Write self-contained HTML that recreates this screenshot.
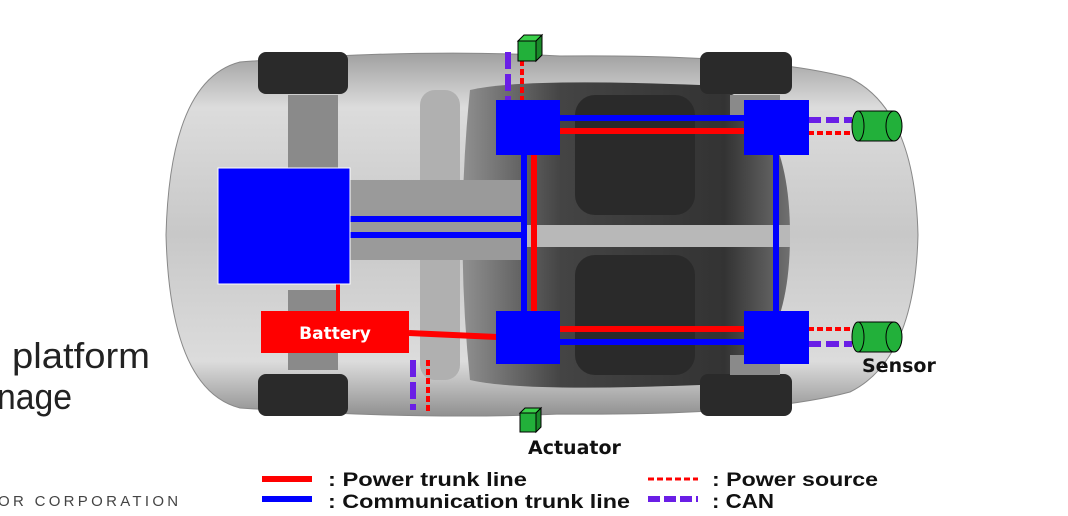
<!DOCTYPE html>
<html><head><style>
html,body{margin:0;padding:0;background:#fff;width:1068px;height:516px;overflow:hidden}
svg{display:block}
text{font-family:"Liberation Sans",sans-serif}
.dv{font-family:"DejaVu Sans","Liberation Sans",sans-serif}
</style></head><body>
<svg width="1068" height="516" viewBox="0 0 1068 516" xmlns="http://www.w3.org/2000/svg">
<defs>
<linearGradient id="body" x1="0" y1="0" x2="0" y2="1">
<stop offset="0" stop-color="#a0a0a0"/><stop offset="0.15" stop-color="#dcdcdc"/>
<stop offset="0.5" stop-color="#c8c8c8"/><stop offset="0.85" stop-color="#dcdcdc"/><stop offset="1" stop-color="#909090"/>
</linearGradient>
<linearGradient id="cab" x1="0" y1="0" x2="1" y2="0">
<stop offset="0" stop-color="#909090"/><stop offset="0.3" stop-color="#444"/><stop offset="0.8" stop-color="#333"/><stop offset="1" stop-color="#707070"/>
</linearGradient>
</defs>
<path d="M240,62 Q420,48 560,56 Q760,54 850,78 Q915,110 918,235 Q915,360 850,392 Q760,416 560,414 Q420,420 240,408 Q170,390 166,235 Q170,80 240,62 Z" fill="url(#body)" stroke="#888"/>
<rect x="420" y="90" width="40" height="290" fill="#b0b0b0" rx="15"/>
<path d="M470,90 Q520,78 700,85 Q790,95 790,235 Q790,375 700,385 Q520,392 470,380 Q455,235 470,90 Z" fill="url(#cab)"/>
<rect x="575" y="95" width="120" height="120" rx="20" fill="#2a2a2a"/>
<rect x="575" y="255" width="120" height="120" rx="20" fill="#2a2a2a"/>
<rect x="470" y="225" width="320" height="22" fill="#b8b8b8"/>
<rect x="345" y="180" width="180" height="80" fill="#9a9a9a"/>
<rect x="258" y="52" width="90" height="42" rx="8" fill="#2a2a2a"/>
<rect x="700" y="52" width="92" height="42" rx="8" fill="#2a2a2a"/>
<rect x="258" y="374" width="90" height="42" rx="8" fill="#2a2a2a"/>
<rect x="700" y="374" width="92" height="42" rx="8" fill="#2a2a2a"/>
<rect x="288" y="95" width="50" height="75" fill="#8a8a8a"/>
<rect x="288" y="290" width="50" height="80" fill="#8a8a8a"/>
<rect x="730" y="95" width="50" height="20" fill="#8a8a8a"/>
<rect x="730" y="355" width="50" height="20" fill="#8a8a8a"/>

<g stroke-width="6" fill="none">
<line x1="350" y1="219" x2="525" y2="219" stroke="#0000ff"/>
<line x1="350" y1="235" x2="525" y2="235" stroke="#0000ff"/>
<line x1="524" y1="155" x2="524" y2="311" stroke="#0000ff"/>
<line x1="534" y1="155" x2="534" y2="311" stroke="#ff0000"/>
<line x1="776" y1="155" x2="776" y2="311" stroke="#0000ff"/>
<line x1="560" y1="118" x2="744" y2="118" stroke="#0000ff"/>
<line x1="560" y1="131" x2="744" y2="131" stroke="#ff0000"/>
<line x1="560" y1="329" x2="744" y2="329" stroke="#ff0000"/>
<line x1="560" y1="342" x2="744" y2="342" stroke="#0000ff"/>
<line x1="409" y1="333" x2="497" y2="337" stroke="#ff0000"/>
<line x1="338" y1="284" x2="338" y2="311" stroke="#ff0000" stroke-width="4"/>
</g>
<g fill="none">
<line x1="508" y1="52" x2="508" y2="100" stroke="#6a1ee6" stroke-width="6" stroke-dasharray="17,5"/>
<line x1="522" y1="60" x2="522" y2="100" stroke="#ff0000" stroke-width="4" stroke-dasharray="6,3"/>
<line x1="413" y1="360" x2="413" y2="410" stroke="#6a1ee6" stroke-width="6" stroke-dasharray="17,5"/>
<line x1="428" y1="360" x2="428" y2="412" stroke="#ff0000" stroke-width="4" stroke-dasharray="6,3"/>
<line x1="808" y1="120" x2="852" y2="120" stroke="#6a1ee6" stroke-width="6" stroke-dasharray="13,5"/>
<line x1="808" y1="133" x2="852" y2="133" stroke="#ff0000" stroke-width="4" stroke-dasharray="6,3"/>
<line x1="808" y1="329" x2="852" y2="329" stroke="#ff0000" stroke-width="4" stroke-dasharray="6,3"/>
<line x1="808" y1="344" x2="852" y2="344" stroke="#6a1ee6" stroke-width="6" stroke-dasharray="13,5"/>
</g>
<rect x="218" y="168" width="132" height="116" fill="#0000ff" stroke="#fff"/>
<rect x="496" y="100" width="64" height="55" fill="#0000ff"/>
<rect x="744" y="100" width="65" height="55" fill="#0000ff"/>
<rect x="496" y="311" width="64" height="53" fill="#0000ff"/>
<rect x="744" y="311" width="65" height="53" fill="#0000ff"/>
<rect x="261" y="311" width="148" height="42" fill="#ff0000"/>
<text x="335" y="339" class="dv" font-size="17" font-weight="bold" fill="#fff" text-anchor="middle">Battery</text>
<g stroke="#000" stroke-width="1">
<polygon points="518,41 524,35 542,35 536,41" fill="#3ad04a"/>
<polygon points="536,41 542,35 542,55 536,61" fill="#1a8a2a"/>
<rect x="518" y="41" width="18" height="20" fill="#22b03a"/>
<polygon points="520,413 525,408 541,408 536,413" fill="#3ad04a"/>
<polygon points="536,413 541,408 541,427 536,432" fill="#1a8a2a"/>
<rect x="520" y="413" width="16" height="19" fill="#22b03a"/>
<rect x="858" y="111" width="36" height="30" fill="#22b03a"/>
<ellipse cx="858" cy="126" rx="6" ry="15" fill="#22b03a"/>
<ellipse cx="894" cy="126" rx="8" ry="15" fill="#22b03a"/>
<rect x="858" y="322" width="36" height="30" fill="#22b03a"/>
<ellipse cx="858" cy="337" rx="6" ry="15" fill="#22b03a"/>
<ellipse cx="894" cy="337" rx="8" ry="15" fill="#22b03a"/>
</g>
<text x="862" y="372" class="dv" font-size="19" font-weight="bold" fill="#111">Sensor</text>
<text x="528" y="454" class="dv" font-size="19" font-weight="bold" fill="#111">Actuator</text>
<text x="12" y="368" font-size="36" fill="#222" textLength="138" lengthAdjust="spacingAndGlyphs">platform</text>
<text x="-3" y="409" font-size="36" fill="#222" textLength="75" lengthAdjust="spacingAndGlyphs">nage</text>
<text x="-2" y="506" font-size="15" fill="#444" letter-spacing="3.3">OR CORPORATION</text>
<line x1="262" y1="479" x2="312" y2="479" stroke="#ff0000" stroke-width="6"/>
<line x1="262" y1="499" x2="312" y2="499" stroke="#0000ff" stroke-width="6"/>
<line x1="648" y1="479" x2="698" y2="479" stroke="#ff0000" stroke-width="3" stroke-dasharray="6,3"/>
<line x1="648" y1="499" x2="698" y2="499" stroke="#6a1ee6" stroke-width="6" stroke-dasharray="12,4"/>
<g class="dv" font-size="19" font-weight="bold" fill="#111">
<text x="328" y="486" textLength="199" lengthAdjust="spacingAndGlyphs">: Power trunk line</text>
<text x="328" y="508" textLength="302" lengthAdjust="spacingAndGlyphs">: Communication trunk line</text>
<text x="712" y="486" textLength="166" lengthAdjust="spacingAndGlyphs">: Power source</text>
<text x="712" y="508" font-size="20" textLength="62" lengthAdjust="spacingAndGlyphs">: CAN</text>
</g>
</svg>
</body></html>
